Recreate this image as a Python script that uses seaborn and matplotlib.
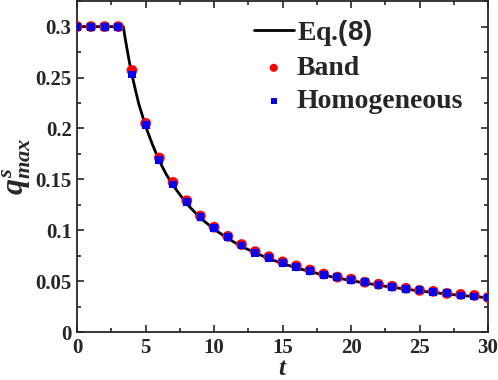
import numpy as np
import pandas as pd
import matplotlib
matplotlib.use("Agg")
import matplotlib.pyplot as plt
import seaborn as sns
from matplotlib.ticker import MultipleLocator

# Eq.(8) curve
t_line = [0, 3.37, 3.45, 3.6, 3.8, 4, 4.25, 4.5, 4.75, 5, 5.5, 6, 6.5, 7, 7.5, 8, 9,
          10, 11, 12, 14, 16, 18, 20, 22.5, 25, 27.5, 30]
q_line = [0.3, 0.3, 0.293, 0.281, 0.266, 0.2525, 0.238, 0.224, 0.213, 0.202, 0.184,
          0.168, 0.155, 0.144, 0.135, 0.126, 0.112, 0.101, 0.092, 0.084, 0.072,
          0.063, 0.056, 0.0505, 0.045, 0.0404, 0.0367, 0.0337]

# simulation points at integer t
t_pts = list(range(0, 31))
q_band = [0.3, 0.3, 0.3, 0.3, 0.257, 0.205, 0.171, 0.147, 0.129, 0.114, 0.103,
          0.094, 0.086, 0.079, 0.074, 0.069, 0.065, 0.061, 0.057, 0.054, 0.052,
          0.049, 0.047, 0.045, 0.043, 0.041, 0.040, 0.038, 0.037, 0.036, 0.034]
q_homo = [0.3, 0.3, 0.3, 0.3, 0.253, 0.203, 0.169, 0.145, 0.128, 0.113, 0.102,
          0.093, 0.085, 0.078, 0.073, 0.068, 0.064, 0.060, 0.056, 0.054, 0.051,
          0.049, 0.046, 0.044, 0.042, 0.041, 0.039, 0.038, 0.036, 0.035, 0.034]

y_ticks = [0, 0.05, 0.1, 0.15, 0.2, 0.25, 0.3]
y_ticklabels = ["0", "0.05", "0.1", "0.15", "0.2", "0.25", "0.3"]

line_df = pd.DataFrame({"t": t_line, "q": q_line})
pts_df = pd.DataFrame({"t": t_pts, "band": q_band, "homo": q_homo})

sns.set_style("ticks")
plt.rcParams["font.family"] = ["Liberation Serif", "DejaVu Serif"]
plt.rcParams["font.weight"] = "bold"
plt.rcParams["mathtext.fontset"] = "custom"
plt.rcParams["mathtext.it"] = "Liberation Serif:italic:bold"
plt.rcParams["mathtext.rm"] = "Liberation Serif:bold"
plt.rcParams["mathtext.sf"] = "Liberation Sans:bold"

fig = plt.figure(figsize=(4.98, 3.8), dpi=100)
ax = fig.add_axes([0.155, 0.126, 0.825, 0.871])

sns.lineplot(data=line_df, x="t", y="q", color="black", linewidth=2, ax=ax,
             label=r"Eq.$\mathsf{(8)}$")
sns.scatterplot(data=pts_df, x="t", y="band", color="red", marker="o", s=60,
                edgecolor="none", ax=ax, label="Band", zorder=3)
sns.scatterplot(data=pts_df, x="t", y="homo", color="blue", marker="s", s=32,
                edgecolor="none", ax=ax, label="Homogeneous", zorder=4)

ax.set_xlim(0, 30)
ax.set_ylim(0, 0.325)
ax.xaxis.set_major_locator(MultipleLocator(5))
ax.xaxis.set_minor_locator(MultipleLocator(2.5))
ax.set_yticks(y_ticks)
ax.set_yticklabels(y_ticklabels)
ax.yaxis.set_minor_locator(MultipleLocator(0.025))
ax.tick_params(which="both", direction="in", top=True, right=True, width=1.2)
ax.tick_params(which="major", length=5, labelsize=15, pad=4)
ax.tick_params(which="minor", length=3)
for lab in ax.get_xticklabels() + ax.get_yticklabels():
    lab.set_fontweight("bold")
for s in ax.spines.values():
    s.set_linewidth(1.3)

ax.set_xlabel(r"$t$", fontsize=18, labelpad=0)
ax.set_ylabel(r"$q^{s}_{max}$", fontsize=23, labelpad=2)

leg = ax.legend(loc="upper right", bbox_to_anchor=(1.0, 1.025), frameon=False,
                prop={"family": "Liberation Serif", "weight": "bold", "size": 20},
                handlelength=1.45, handletextpad=0.1, labelspacing=0.28,
                markerscale=0.75)

fig.savefig("out.png", dpi=100)
